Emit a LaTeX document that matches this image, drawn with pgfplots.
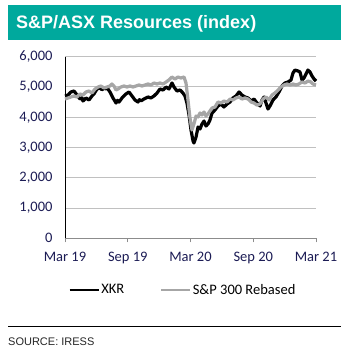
\documentclass[border=0pt]{standalone}
\usepackage{fontspec}
\setmainfont{Carlito}
\newfontfamily\arialfont{Liberation Sans}
\usepackage{pgfplots}
\pgfplotsset{compat=1.18}
\definecolor{teal1}{HTML}{00A99D}
\definecolor{navytext}{HTML}{1C1C55}
\definecolor{grid1}{HTML}{C0C0C0}
\definecolor{axisgray}{HTML}{8C8C8C}
\definecolor{sp}{HTML}{A6A6A6}
\begin{document}
\begin{tikzpicture}
\useasboundingbox (0,0) rectangle (352bp,354bp);
\fill[white] (0,0) rectangle (352bp,354bp);
% title bar
\fill[teal1] (8bp,314bp) rectangle (341bp,349bp);
\node[anchor=base west, inner sep=0pt, text=white, font=\arialfont\bfseries\fontsize{18bp}{20bp}\selectfont] at (16bp,325.7bp) {S\&P/ASX Resources (index)};
% source
\draw[black, line width=0.9bp] (8bp,28bp) -- (341bp,28bp);
\node[anchor=base west, inner sep=0pt, text=black!85, font=\arialfont\fontsize{11bp}{13bp}\selectfont] at (8bp,9bp) {SOURCE: IRESS};
\begin{axis}[
  at={(65bp,115.7bp)}, anchor=south west,
  scale only axis, width=251bp, height=181.6bp,
  xmin=0, xmax=24, ymin=0, ymax=6000,
  axis x line=bottom, axis y line=left,
  axis line style={-},
  x axis line style={draw=axisgray, line width=1.2bp},
  y axis line style={draw=black, line width=1bp},
  xtick={0,6,12,18,24},
  xticklabels={Mar 19, Sep 19, Mar 20, Sep 20, Mar 21},
  ytick={0,1000,2000,3000,4000,5000,6000},
  tick align=outside, major tick length=4bp,
  xtick style={draw=axisgray, line width=1bp},
  ytick style={draw=none},
  ymajorgrids, grid style={draw=grid1, line width=1bp},
  /pgf/number format/assume math mode=true,
  /pgf/number format/1000 sep={,},
  tick label style={font=\fontsize{14.5bp}{16bp}\selectfont, text=navytext},
  xticklabel style={yshift=-6bp},
  yticklabel style={xshift=-5bp},
  clip=false,
  legend style={at={(rel axis cs:0,0)}, anchor=west, xshift=3bp, yshift=-51.7bp,
    draw=none, fill=none, inner sep=0pt, legend columns=2,
    font=\fontsize{14.5bp}{16bp}\selectfont, text=black,
    nodes={inner sep=1.5bp},
    /tikz/every even column/.append style={column sep=34bp}},
  legend image code/.code={\draw[#1, line width=2.6bp] (0bp,0bp) -- (29bp,0bp);},
]
\addplot[black, line width=3.2bp, line join=round] coordinates {
(0,4702)(0.29,4735)(0.57,4834)(0.86,4867)(1.15,4735)(1.43,4602)(1.63,4640)(1.72,4536)(2.01,4636)(2.29,4570)(2.58,4702)
(2.77,4768)(3.06,4933)(3.35,4966)(3.53,4910)(3.73,4950)(4.11,4933)(4.30,4834)(4.59,4636)(4.88,4470)(5.02,4560)(5.16,4500)(5.45,4636)
(5.83,4768)(6.12,4834)(6.41,4702)(6.69,4570)(6.98,4503)(7.12,4580)(7.27,4540)(7.55,4602)(7.94,4669)(8.22,4636)(8.51,4702)
(8.80,4801)(9.08,4933)(9.37,4900)(9.66,4999)(9.94,4933)(10.23,5131)(10.42,4999)(10.71,4867)(11.00,4900)(11.28,4801)
(11.47,4702)(11.66,4470)(11.86,4074)(12.05,3578)(12.24,3215)(12.33,3149)(12.53,3347)(12.72,3677)(12.91,3611)(13.10,3776)
(13.29,3875)(13.48,3710)(13.67,3776)(13.86,3908)(14.06,4140)(14.34,4239)(14.63,4371)(14.92,4437)(15.20,4338)(15.49,4437)
(15.78,4503)(16.06,4636)(16.35,4702)(16.64,4834)(16.92,4735)(17.21,4669)(17.50,4636)(17.79,4536)(18.07,4602)(18.36,4470)
(18.65,4371)(18.84,4570)(19.03,4669)(19.22,4470)(19.41,4272)(19.60,4371)(19.89,4570)(20.17,4669)(20.46,4834)(20.75,5032)
(21.03,5131)(21.32,5164)(21.61,5230)(21.80,5461)(21.99,5560)(22.28,5527)(22.47,5494)(22.66,5230)(22.85,5296)(23.04,5428)
(23.23,5560)(23.43,5494)(23.62,5362)(23.81,5263)(24.00,5197)
};
\addlegendentry{XKR}
\addplot[sp, line width=3.2bp, line join=round] coordinates {
(0,4603)(0.29,4636)(0.57,4669)(0.86,4702)(1.15,4669)(1.43,4768)(1.72,4735)(2.01,4834)(2.29,4867)(2.58,4801)
(2.87,4933)(3.16,4999)(3.44,5032)(3.73,4966)(4.02,4999)(4.30,5032)(4.49,5098)(4.68,5032)(4.88,4900)(5.07,4933)
(5.35,4999)(5.64,5032)(5.93,4999)(6.22,5032)(6.50,4999)(6.79,5032)(7.08,5065)(7.36,5032)(7.65,5065)(7.94,5098)
(8.22,5065)(8.51,5131)(8.80,5098)(9.08,5131)(9.37,5098)(9.66,5164)(9.94,5230)(10.23,5329)(10.52,5263)(10.80,5329)
(11.09,5296)(11.38,5329)(11.57,5131)(11.76,4570)(11.95,3974)(12.14,3578)(12.33,3776)(12.53,4041)(12.72,4008)(12.91,4140)
(13.10,4074)(13.29,4173)(13.48,4041)(13.67,4107)(13.86,4206)(14.06,4305)(14.34,4338)(14.63,4503)(14.92,4470)(15.20,4536)
(15.49,4503)(15.78,4602)(16.06,4570)(16.35,4636)(16.64,4669)(16.92,4602)(17.21,4636)(17.50,4602)(17.79,4503)(18.07,4470)
(18.36,4400)(18.65,4440)(18.94,4602)(19.22,4669)(19.51,4570)(19.79,4735)(20.08,4801)(20.37,4900)(20.65,4999)(20.94,5065)
(21.23,5098)(21.51,5065)(21.80,5098)(22.09,5065)(22.37,5098)(22.66,5164)(22.95,5131)(23.23,5197)(23.52,5164)(23.71,5098)
(24.00,5065)
};
\addlegendentry{S\&P 300 Rebased}
\end{axis}
\end{tikzpicture}
\end{document}
